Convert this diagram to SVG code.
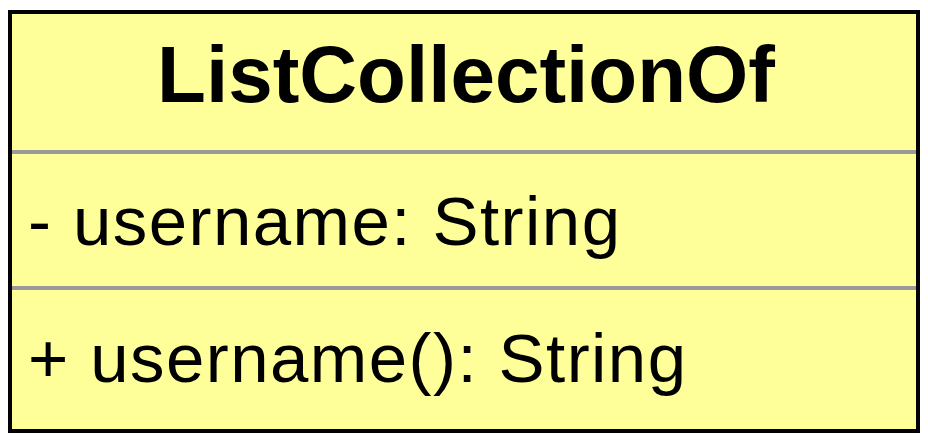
<svg xmlns="http://www.w3.org/2000/svg" width="928" height="444" viewBox="0 0 928 444">
<style>
.box{fill:#FFFF99;stroke:#000;stroke-width:4}
.div{stroke:#999;stroke-width:4}
.title{font-family:"Liberation Sans",Arial,sans-serif;font-weight:bold;font-size:80px;fill:#000}
.member{font-family:"Liberation Sans",Arial,sans-serif;font-size:69px;fill:#000}
</style>
<g id="ListCollectionOf">
<rect class="box" x="10" y="12" width="908" height="419"/>
<line class="div" x1="12" y1="152" x2="916" y2="152"/>
<line class="div" x1="12" y1="288" x2="916" y2="288"/>
<text class="title" x="466" y="102" text-anchor="middle">ListCollectionOf</text>
<text class="member" x="28" y="245" textLength="592" lengthAdjust="spacing">- username: String</text>
<text class="member" x="28" y="382" textLength="658" lengthAdjust="spacing">+ username(): String</text>
</g>
<g id="connectors"/>
</svg>
